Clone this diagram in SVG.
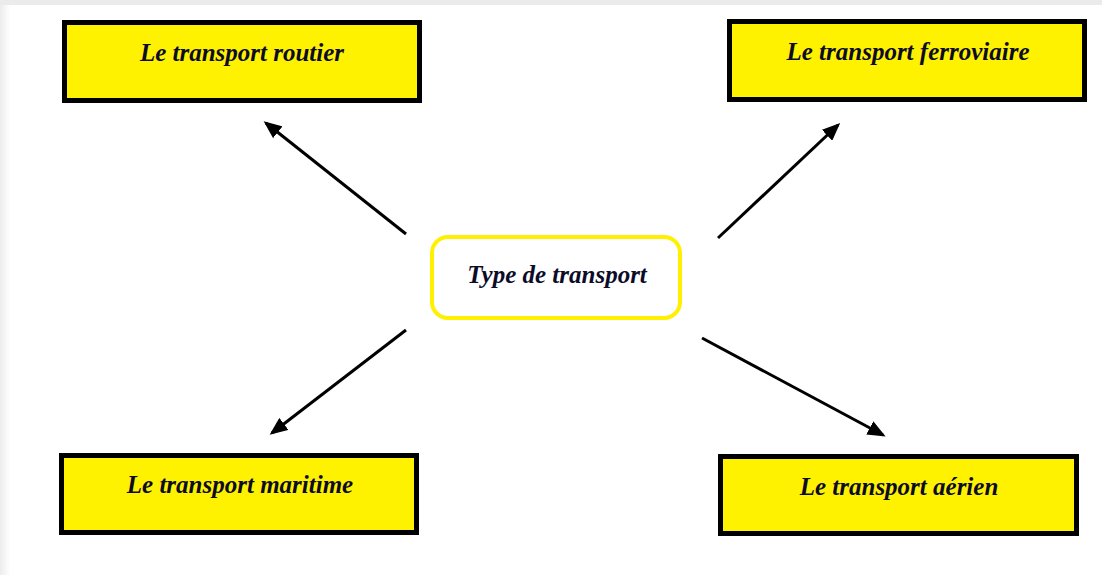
<svg xmlns="http://www.w3.org/2000/svg" width="1102" height="575" viewBox="0 0 1102 575">
<defs>
<style>
.box{fill:#fff200;stroke:#000;stroke-width:5}
.center{fill:#fff;stroke:#fff000;stroke-width:4}
.lbl{font-family:"Liberation Serif","Times New Roman",serif;font-weight:bold;font-style:italic;font-size:25px;fill:#0c0c28;text-anchor:middle}
.conn{stroke:#000;stroke-width:3;fill:none;marker-end:url(#ah)}
</style>
<marker id="ah" markerWidth="6" markerHeight="5" refX="5" refY="2.5" orient="auto" markerUnits="strokeWidth">
<path d="M0,0 L6,2.5 L0,5 Z" fill="#000"/>
</marker>
<linearGradient id="lg" x1="0" y1="0" x2="1" y2="0">
<stop offset="0" stop-color="#ececec"/>
<stop offset="1" stop-color="#ffffff"/>
</linearGradient>
</defs>
<rect x="0" y="0" width="1102" height="575" fill="#fff"/>
<rect x="0" y="0" width="10" height="575" fill="url(#lg)"/>
<rect x="0" y="0" width="1102" height="5" fill="#ebebeb"/>
<g id="connectors">
<line class="conn" x1="406" y1="234" x2="266" y2="123"/>
<line class="conn" x1="718" y1="238" x2="838" y2="125"/>
<line class="conn" x1="406" y1="330" x2="272" y2="433"/>
<line class="conn" x1="702" y1="338" x2="883" y2="435"/>
</g>
<g id="center">
<rect class="center" x="432" y="237" width="248" height="81" rx="16"/>
<text class="lbl" x="557" y="283">Type de transport</text>
</g>
<g id="routier">
<rect class="box" x="64.5" y="22.5" width="355" height="78"/>
<text class="lbl" x="242" y="61">Le transport routier</text>
</g>
<g id="ferroviaire">
<rect class="box" x="729.5" y="21.5" width="355" height="78"/>
<text class="lbl" x="908" y="60">Le transport ferroviaire</text>
</g>
<g id="maritime">
<rect class="box" x="61.5" y="455.5" width="355" height="77"/>
<text class="lbl" x="240" y="493">Le transport maritime</text>
</g>
<g id="aerien">
<rect class="box" x="720.5" y="456.5" width="356" height="77"/>
<text class="lbl" x="899" y="495">Le transport aérien</text>
</g>
</svg>
